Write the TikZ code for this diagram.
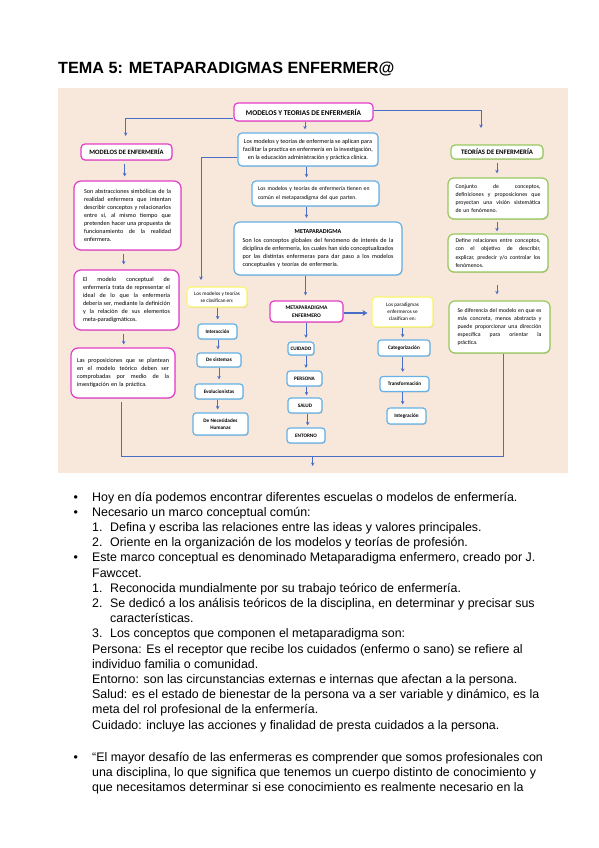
\documentclass[tikz,border=0pt]{standalone}
\usepackage{fontspec}
\setmainfont{Liberation Sans}
\newfontfamily\dfont{Carlito}
\usetikzlibrary{shadows,arrows.meta}
\definecolor{bgc}{RGB}{248,232,220}
\definecolor{magc}{RGB}{228,60,200}
\definecolor{bluc}{RGB}{100,178,230}
\definecolor{grnc}{RGB}{150,200,90}
\definecolor{yelc}{RGB}{250,245,110}
\definecolor{arrc}{RGB}{72,110,200}
\setlength\parindent{0pt}
\def\jw{100pt}
\newcommand\JL[1]{{\spaceskip=0.22em plus 3em minus 0.05em\makebox[\jw][s]{#1}}}
\begin{document}
\begin{tikzpicture}[x=1pt,y=-1pt,
  box/.style={line width=1.2pt, rounded corners=4pt, fill=white, inner sep=0pt,
    drop shadow={shadow xshift=0.7pt,shadow yshift=-0.9pt,opacity=0.3},
    font=\dfont\fontsize{6.1}{8.1}\selectfont},
  gfont/.style={font=\dfont\fontsize{5.8}{8.1}\selectfont},
  jt/.style={text width=#1pt, align=left, execute at begin node={\def\jw{#1pt}}},
  bbox/.style={box, font=\dfont\bfseries\fontsize{6.6}{8}\selectfont, align=center},
  sbox/.style={box, rounded corners=3pt, font=\dfont\bfseries\fontsize{5.2}{7}\selectfont, align=center},
  ybox/.style={box, draw=yelc, font=\dfont\fontsize{5.2}{7.2}\selectfont, align=center},
  mag/.style={draw=magc}, blu/.style={draw=bluc}, grn/.style={draw=grnc},
  arr/.style={draw=arrc, line width=1pt, -{Stealth[length=3.5pt,width=3.5pt]}},
  ln/.style={draw=arrc, line width=1pt},
  txt/.style={anchor=base west, inner sep=0pt, font=\fontsize{12.4}{14}\selectfont},
]
\useasboundingbox (0,0) rectangle (599,848);
\fill[white] (0,0) rectangle (599,848);
\node[anchor=base west, inner sep=0pt, font=\bfseries\fontsize{16.2}{19}\selectfont] (title) at (58,73.7) {TEMA 5: METAPARADIGMAS ENFERMER@};
\fill[bgc] (58,88) rectangle (568,473);

% top
\node[bbox, mag, font=\dfont\bfseries\fontsize{7.3}{8}\selectfont, minimum width=139, minimum height=18] (top) at (303.5,112) {MODELOS Y TEORIAS DE ENFERMERÍA};
\node[bbox, mag, minimum width=91, minimum height=16] (me) at (126.5,152) {MODELOS DE ENFERMERÍA};
\node[bbox, grn, font=\dfont\bfseries\fontsize{6.8}{8}\selectfont, minimum width=92, minimum height=14] (te) at (497,152) {TEORÍAS DE ENFERMERÍA};

% center column
\node[box, blu, minimum width=140, minimum height=33, align=center] (b1) at (308,149.5)
  {Los modelos y teorías de enfermería se aplican para\\facilitar la practica en enfermería en la investigación,\\en la educación administración y práctica clínica.};
\node[box, blu, font=\dfont\fontsize{5.7}{8.1}\selectfont, minimum width=127, minimum height=25, jt=115] (b2) at (315.5,193.5)
  {Los modelos y teorías de enfermería tienen en\\común el metaparadigma del que parten.};
\node[box, blu, rounded corners=6pt, minimum width=168, minimum height=53, jt=151] (b3) at (318,248.5)
  {\makebox[\jw][c]{\bfseries METAPARADIGMA}\\[1.5pt]
   \JL{Son los conceptos globales del fenómeno de interés de la}\\
   \JL{diciplina de enfermería, los cuales han sido conceptualizados}\\
   \JL{por las distintas enfermeras para dar paso a los modelos}\\
   conceptuales y teorías de enfermería.};
\node[bbox, mag, font=\dfont\bfseries\fontsize{5.5}{8}\selectfont, minimum width=73, minimum height=21] (mep) at (306.5,311.5) {METAPARADIGMA\\ENFERMERO};

\node[sbox, blu, minimum width=26, minimum height=13] (c1) at (301,348.5) {CUIDADO};
\node[sbox, blu, minimum width=35, minimum height=15] (c2) at (304.5,378.5) {PERSONA};
\node[sbox, blu, minimum width=34, minimum height=15] (c3) at (305,405.5) {SALUD};
\node[sbox, blu, minimum width=38, minimum height=15] (c4) at (306,435.5) {ENTORNO};

% left-middle column
\node[ybox, minimum width=60, minimum height=20] (yl) at (217,297) {Los modelos y teorías\\se clasifican en:};
\node[sbox, blu, minimum width=39, minimum height=15] (i1) at (217.5,331.5) {Interacción};
\node[sbox, blu, minimum width=44, minimum height=14] (i2) at (219,360) {De sistemas};
\node[sbox, blu, minimum width=48, minimum height=15] (i3) at (219,391.5) {Evolucionistas};
\node[sbox, blu, minimum width=55, minimum height=22] (i4) at (220.5,424) {De Necesidades\\Humanas};

% right-middle column
\node[ybox, minimum width=61, minimum height=30] (yr) at (402.5,312) {Los paradigmas\\enfermeros se\\clasifican en:};
\node[sbox, blu, minimum width=52, minimum height=16] (p1) at (404,348) {Categorización};
\node[sbox, blu, minimum width=49, minimum height=15] (p2) at (404.5,384) {Transformación};
\node[sbox, blu, minimum width=39, minimum height=16] (p3) at (406.5,416) {Integración};

% left column
\node[box, mag, rounded corners=7pt, minimum width=107, minimum height=69, jt=87] (l2) at (127.5,215.5)
  {\JL{Son abstracciones simbólicas de la}\\
   \JL{realidad enfermera que intentan}\\
   \JL{describir conceptos y relacionarlos}\\
   \JL{entre sí, al mismo tiempo que}\\
   \JL{pretenden hacer una propuesta de}\\
   \JL{funcionamiento de la realidad}\\
   enfermera.};
\node[box, mag, rounded corners=7pt, minimum width=105, minimum height=60, jt=87] (l3) at (126.5,300)
  {\JL{El modelo conceptual de}\\
   \JL{enfermería trata de representar el}\\
   \JL{ideal de lo que la enfermería}\\
   \JL{debería ser, mediante la definición}\\
   \JL{y la relación de sus elementos}\\
   meta-paradigmáticos.};
\node[box, mag, rounded corners=7pt, minimum width=104, minimum height=50, jt=92] (l4) at (123,373)
  {\JL{Las proposiciones que se plantean}\\
   \JL{en el modelo teórico deben ser}\\
   \JL{comprobadas por medio de la}\\
   investigación en la práctica.};

% right column
\node[box, grn, gfont, rounded corners=6pt, minimum width=100, minimum height=41, jt=85] (g2) at (498,198.5)
  {\JL{Conjunto de conceptos,}\\
   \JL{definiciones y proposiciones que}\\
   \JL{proyectan una visión sistemática}\\
   de un fenómeno.};
\node[box, grn, gfont, rounded corners=6pt, minimum width=100, minimum height=38, jt=85] (g3) at (498,253)
  {\JL{Define relaciones entre conceptos,}\\
   \JL{con el objetivo de describir,}\\
   \JL{explicar, predecir y/o controlar los}\\
   fenómenos.};
\node[box, grn, gfont, rounded corners=6pt, minimum width=101, minimum height=52, jt=84] (g4) at (499.5,327)
  {\JL{Se diferencia del modelo en que es}\\
   \JL{más concreta, menos abstracta y}\\
   \JL{puede proporcionar una dirección}\\
   \JL{específica para orientar la}\\
   práctica.};

% connectors
\coordinate (meT) at (125.7,136);
\coordinate (teT) at (481,128);
\coordinate (ylT) at (201,280);
\coordinate (bot) at (312.7,466);
\draw[arr] (top.west |- 0,118.5) -| (meT);
\draw[arr] (top.east |- 0,111) -| (teT);
\draw[arr] (top.south -| 305,0) -- ([yshift=3pt]b1.north -| 305,0);
\draw[arr] (b1.west |- 0,157) -| (ylT);
\draw[arr] (b1.south -| 306.5,0) -- ([yshift=3pt]b2.north -| 306.5,0);
\draw[arr] (b2.south -| 306.5,0) -- ([yshift=3.5pt]b3.north -| 306.5,0);
\draw[arr] (b3.south -| 305.5,0) -- ([yshift=5pt]mep.north -| 305.5,0);
\draw[draw=arrc, line width=2pt, -{Stealth[length=5pt,width=6pt]}] (mep.east |- 0,313) -- ([xshift=-4pt]yr.west |- 0,313);
\draw[arr] (mep.south -| 306,0) -- ([yshift=3.5pt]c1.north -| 306,0);
\draw[arr] (c1.south -| 306,0) -- ([yshift=2.5pt]c2.north -| 306,0);
\draw[arr] (c2.south -| 306.5,0) -- ([yshift=2pt]c3.north -| 306.5,0);
\draw[arr] (c3.south -| 307.7,0) -- ([yshift=2pt]c4.north -| 307.7,0);
\draw[arr] (yl.south -| 217.7,0) -- ([yshift=4pt]i1.north -| 217.7,0);
\draw[arr] (i1.south -| 218,0) -- ([yshift=3pt]i2.north -| 218,0);
\draw[arr] (i2.south -| 219,0) -- ([yshift=4pt]i3.north -| 219,0);
\draw[arr] (i3.south -| 217.7,0) -- ([yshift=3pt]i4.north -| 217.7,0);
\draw[arr] (yr.south -| 402.7,0) -- ([yshift=2pt]p1.north -| 402.7,0);
\draw[arr] (p1.south -| 402.7,0) -- ([yshift=4pt]p2.north -| 402.7,0);
\draw[arr] (p2.south -| 402.7,0) -- ([yshift=3pt]p3.north -| 402.7,0);
\draw[arr] ([yshift=-3pt]me.south -| 124.7,0) -- ([yshift=4pt]l2.north -| 124.7,0);
\draw[arr] ([yshift=-3pt]l2.south -| 123.7,0) -- ([yshift=5pt]l3.north -| 123.7,0);
\draw[arr] ([yshift=-3pt]l3.south -| 123.7,0) -- ([yshift=3pt]l4.north -| 123.7,0);
\draw[arr] ([yshift=-3pt]te.south -| 497,0) -- ([yshift=4pt]g2.north -| 497,0);
\draw[arr] ([yshift=-2pt]g2.south -| 497,0) -- ([yshift=2pt]g3.north -| 497,0);
\draw[arr] ([yshift=-12pt]g3.south -| 497,0) -- ([yshift=6pt]g4.north -| 497,0);
\draw[ln] ([yshift=-3pt]l4.south -| 121,0) |- (503,456) -- (g4.south -| 503,0);
\draw[arr] (312.7,456) -- (bot);

% body text
\node[txt] (u1) at (73.5,501) {•};
\node[txt] (t1) at (92,501) {Hoy en día podemos encontrar diferentes escuelas o modelos de enfermería.};
\node[txt] (u2) at (73.5,516.2) {•};
\node[txt] (t2) at (92,516.2) {Necesario un marco conceptual común:};
\node[txt] (t3) at (92,531.4) {\makebox[18pt][l]{1.}Defina y escriba las relaciones entre las ideas y valores principales.};
\node[txt] (t4) at (92,546.6) {\makebox[18pt][l]{2.}Oriente en la organización de los modelos y teorías de profesión.};
\node[txt] (u3) at (73.5,561.8) {•};
\node[txt] (t5) at (92,561.8) {Este marco conceptual es denominado Metaparadigma enfermero, creado por J.};
\node[txt] (t6) at (92,577) {Fawccet.};
\node[txt] (t7) at (92,592.2) {\makebox[18pt][l]{1.}Reconocida mundialmente por su trabajo teórico de enfermería.};
\node[txt] (t8) at (92,607.4) {\makebox[18pt][l]{2.}Se dedicó a los análisis teóricos de la disciplina, en determinar y precisar sus};
\node[txt] (t9) at (110,622.6) {características.};
\node[txt] (t10) at (92,637.8) {\makebox[18pt][l]{3.}Los conceptos que componen el metaparadigma son:};
\node[txt] (t11) at (92,653) {Persona: Es el receptor que recibe los cuidados (enfermo o sano) se refiere al};
\node[txt] (t12) at (92,668.2) {individuo familia o comunidad.};
\node[txt] (t13) at (92,683.4) {Entorno: son las circunstancias externas e internas que afectan a la persona.};
\node[txt] (t14) at (92,698.6) {Salud: es el estado de bienestar de la persona va a ser variable y dinámico, es la};
\node[txt] (t15) at (92,713.8) {meta del rol profesional de la enfermería.};
\node[txt] (t16) at (92,729) {Cuidado: incluye las acciones y finalidad de presta cuidados a la persona.};
\node[txt] (u4) at (73.5,761) {•};
\node[txt] (t17) at (92,761) {“El mayor desafío de las enfermeras es comprender que somos profesionales con};
\node[txt] (t18) at (92,776) {una disciplina, lo que significa que tenemos un cuerpo distinto de conocimiento y};
\node[txt] (t19) at (92,791) {que necesitamos determinar si ese conocimiento es realmente necesario en la};
\end{tikzpicture}
\end{document}
